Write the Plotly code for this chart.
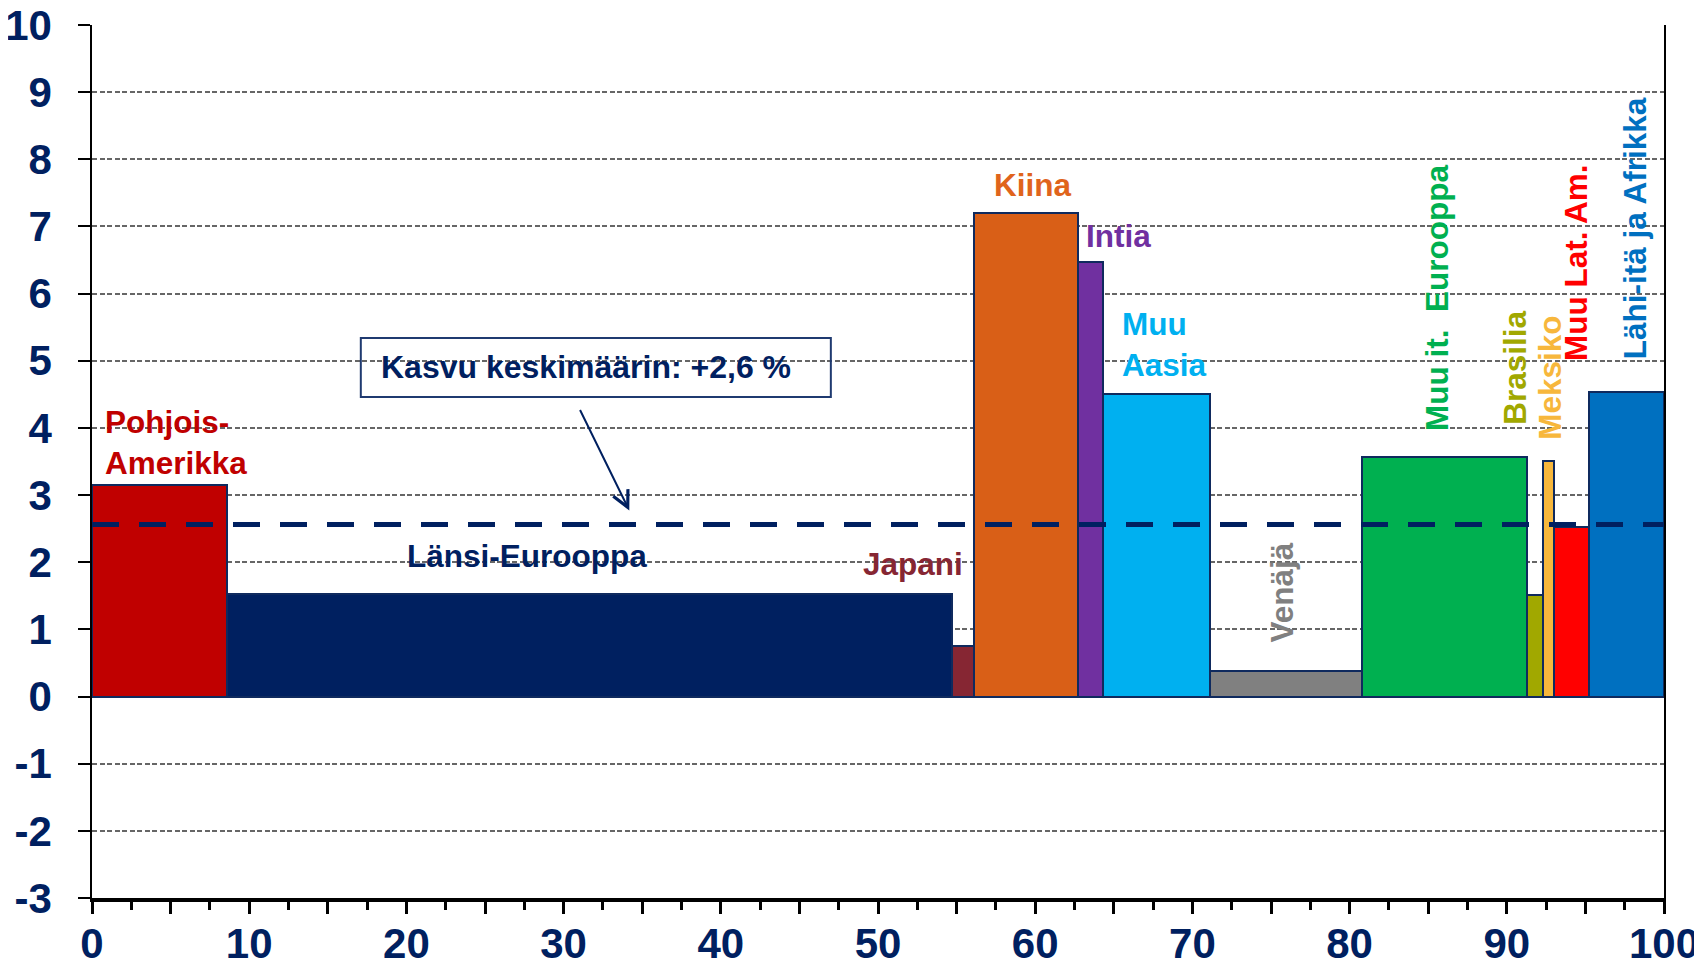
import numpy as np
import plotly.graph_objects as go

# regions: share (bar width) and growth (bar height)
regions = [
    "Pohjois-Amerikka", "Länsi-Eurooppa", "Japani", "Kiina", "Intia", "Muu Aasia",
    "Venäjä", "Muu it. Eurooppa", "Brasilia", "Meksiko", "Muu Lat. Am.", "Lähi-itä ja Afrikka",
]
shares = [8.6, 46.1, 1.4, 6.65, 1.55, 6.8, 9.7, 10.5, 1.0, 0.7, 2.25, 4.75]
growth = [3.15, 1.52, 0.76, 7.2, 6.47, 4.5, 0.38, 3.56, 1.51, 3.51, 2.53, 4.53]
colors = [
    "#C00000", "#002060", "#862633", "#D95F17", "#7030A0", "#00B0F0",
    "#808080", "#00B050", "#A1A800", "#F7B73C", "#FF0000", "#0070C0",
]
avg_growth = 2.56
avg_text = "Kasvu keskimäärin: +2,6 %"

y_ticks = list(range(-3, 11))
y_ticktext = [str(v) for v in y_ticks]
x_ticks = list(range(0, 101, 5))
x_ticktext = [str(v) if v % 10 == 0 else "" for v in x_ticks]

# label placement: (text, x, y, angle, anchor, color)
labels = [
    ("Pohjois-<br>Amerikka", 0.7, 3.78, 0, "left", "#C00000"),
    ("Länsi-Eurooppa", 27.7, 2.1, 0, "center", "#002060"),
    ("Japani", 52.2, 1.97, 0, "center", "#862633"),
    ("Kiina", 59.8, 7.62, 0, "center", "#E0641C"),
    ("Intia", 65.3, 6.86, 0, "center", "#7030A0"),
    ("Muu<br>Aasia", 65.4, 5.24, 0, "left", "#00B0F0"),
    ("Venäjä", 75.7, 1.55, -90, "center", "#808080"),
    ("Muu it.\u00a0 Eurooppa", 85.6, 5.93, -90, "center", "#00B050"),
    ("Brasilia", 90.5, 4.89, -90, "center", "#A1A800"),
    ("Meksiko", 92.7, 4.75, -90, "center", "#F7B73C"),
    ("Muu Lat. Am.", 94.4, 6.47, -90, "center", "#FF0000"),
    ("Lähi-itä ja Afrikka", 98.2, 6.97, -90, "center", "#0070C0"),
]

NAVY = "#002060"
FONT = "Liberation Sans, Arial, sans-serif"

edges = np.concatenate([[0], np.cumsum(shares)])
centers = (edges[:-1] + edges[1:]) / 2

fig = go.Figure()
fig.add_bar(
    x=centers,
    y=growth,
    width=shares,
    marker=dict(color=colors, line=dict(color="#0F2A5E", width=2)),
    hovertext=regions,
    showlegend=False,
)

fig.add_hline(y=avg_growth, line=dict(color=NAVY, width=5, dash="27px,20px"))

# text box with arrow to the average line
fig.add_shape(
    type="rect", x0=17.1, x1=47.0, y0=4.46, y1=5.34,
    line=dict(color="#1F3A70", width=2), fillcolor="rgba(0,0,0,0)",
)
fig.add_annotation(
    x=31.4, y=4.9, text=avg_text, showarrow=False,
    font=dict(family=FONT, size=32, color=NAVY, weight="bold"),
)
fig.add_annotation(
    x=34.18, y=2.77, ax=31.0, ay=4.29, axref="x", ayref="y",
    text="", showarrow=True, arrowhead=5, arrowsize=1.6, arrowwidth=2, arrowcolor=NAVY,
)

for text, x, y, angle, anchor, color in labels:
    fig.add_annotation(
        x=x, y=y, text=text, showarrow=False, textangle=angle,
        xanchor=anchor, yanchor="middle", align="left",
        font=dict(family=FONT, size=31.5, color=color, weight="bold"),
    )

# page body adds an 8px offset, so margins are shifted accordingly
fig.update_layout(
    width=1702,
    height=965,
    margin=dict(l=84, r=46, t=17, b=75),
    plot_bgcolor="white",
    paper_bgcolor="white",
    bargap=0,
    font=dict(family=FONT),
    xaxis=dict(
        range=[0, 100],
        automargin=False,
        tickvals=x_ticks,
        ticktext=x_ticktext,
        ticks="outside",
        ticklen=12,
        tickwidth=3,
        tickcolor="black",
        minor=dict(tick0=2.5, dtick=5, ticks="outside", ticklen=8, tickwidth=3, tickcolor="black"),
        showline=True,
        linecolor="black",
        linewidth=4,
        showgrid=False,
        zeroline=False,
        ticklabelstandoff=-6,
        ticklabeloverflow="allow",
        tickfont=dict(family=FONT, size=42, color=NAVY, weight="bold"),
    ),
    yaxis=dict(
        range=[-3, 10],
        automargin=False,
        tickvals=y_ticks,
        ticktext=y_ticktext,
        ticks="outside",
        ticklen=12,
        tickwidth=1.5,
        tickcolor="black",
        showline=True,
        mirror=True,
        linecolor="black",
        linewidth=1.5,
        showgrid=True,
        gridcolor="#666666",
        gridwidth=2,
        griddash="5px,2.5px",
        zeroline=False,
        ticklabelstandoff=18,
        ticklabeloverflow="allow",
        tickfont=dict(family=FONT, size=42, color=NAVY, weight="bold"),
    ),
)

fig.write_html("out.html")
